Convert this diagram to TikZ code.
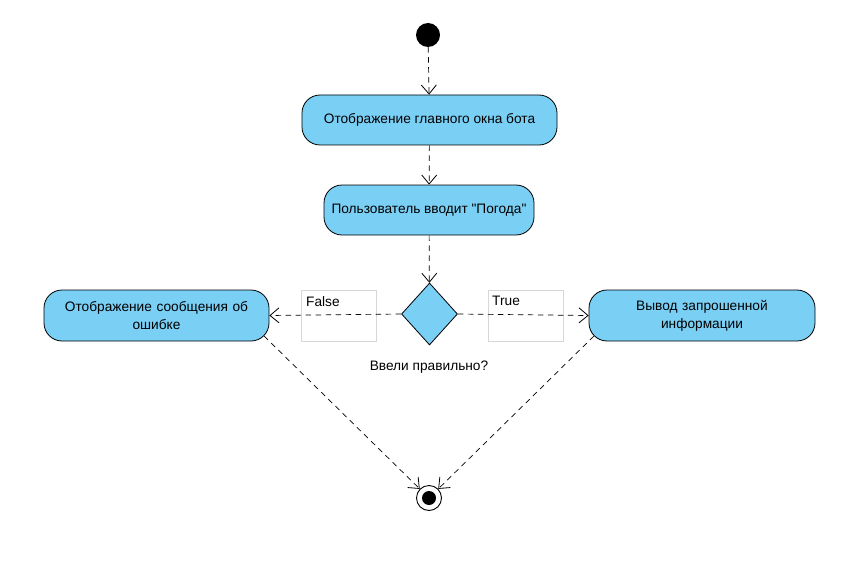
\documentclass[tikz,border=0pt]{standalone}
\usepackage{fontspec}
\newfontfamily\diafont{Liberation Sans}
\usetikzlibrary{arrows.meta,shapes.geometric,calc}
\definecolor{actblue}{RGB}{122,207,245}
\definecolor{lblgray}{RGB}{215,215,215}
\begin{document}
\begin{tikzpicture}[x=1pt,y=-1pt,
  font=\diafont\fontsize{13.7}{18}\selectfont,
  act/.style={draw=black,fill=actblue,rounded corners=18pt,line width=0.8pt,align=center,inner sep=0pt},
  flow/.style={draw=black,dash pattern=on 5.5pt off 4.5pt,line width=0.7pt,-{Straight Barb[length=9pt,width=15pt,line width=0.8pt]}},
  lbl/.style={draw=lblgray,line width=0.6pt,minimum width=75pt,minimum height=51pt,inner sep=0pt}
]
\useasboundingbox (0,0) rectangle (858,572);
\node[circle,fill=black,minimum size=24pt,inner sep=0pt] (start) at (428,35) {};
\node[act,minimum width=255pt,minimum height=50pt] (b1) at (429.5,120) {Отображение главного окна бота};
\node[act,minimum width=210pt,minimum height=50pt] (b2) at (429,210) {Пользователь вводит "Погода"};
\node[diamond,draw=black,fill=actblue,line width=0.8pt,minimum width=56pt,minimum height=62pt,inner sep=0pt] (dec) at (429.5,314) {};
\node at (429,367) (q) {Ввели правильно?};
\node[act,minimum width=225pt,minimum height=51pt,text width=215pt] (bl) at (156.5,315.5) {Отображение сообщения об\\ошибке};
\node[act,minimum width=226pt,minimum height=51pt,text width=215pt] (br) at (702,315.5) {Вывод запрошенной\\информации};
\node[lbl] (fbox) at (339,315.5) {};
\node[anchor=north west,inner sep=0pt] (ft) at (306,296) {False};
\node[lbl] (tbox) at (525.5,315.5) {};
\node[anchor=north west,inner sep=0pt] (tt) at (492,296) {True};
\node[circle,draw=black,fill=white,line width=0.9pt,minimum size=25pt,inner sep=0pt] (end) at (429,498) {};
\node[circle,fill=black,minimum size=14pt,inner sep=0pt] (endin) at (end) {};
\coordinate (blc) at ($(bl.south east)+(-5.3,-5.3)$);
\coordinate (brc) at ($(br.south west)+(5.3,-5.3)$);
\draw[flow] (start) -- (b1);
\draw[flow] (b1) -- (b2);
\draw[flow] (b2) -- (dec);
\draw[flow] (dec.west) -- (bl.east);
\draw[flow] (dec.east) -- (br.east -| br.west);
\draw[flow] (blc) -- (end);
\draw[flow] (brc) -- (end);
\end{tikzpicture}
\end{document}
